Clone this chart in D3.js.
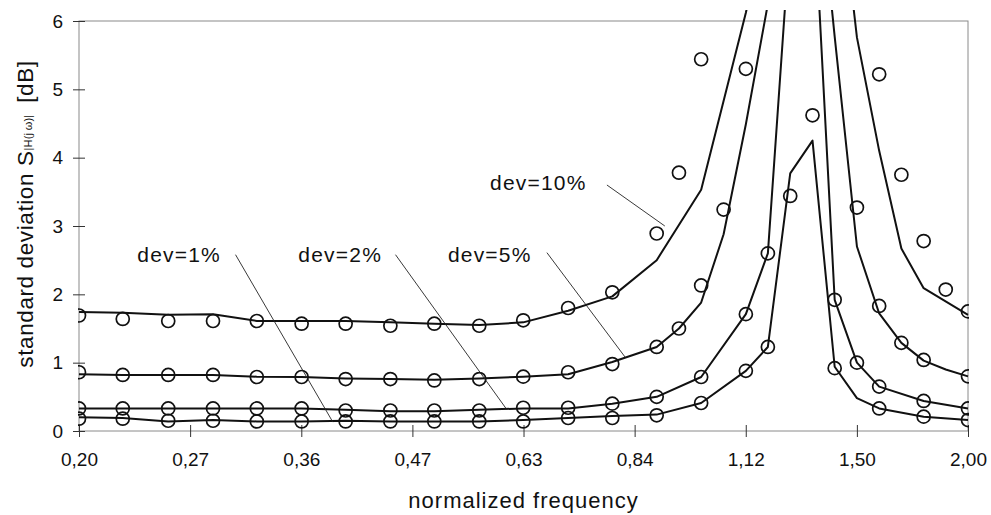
<!DOCTYPE html>
<html>
<head>
<meta charset="utf-8">
<script src="https://cdn.jsdelivr.net/npm/d3@7"></script>
<style>
  body { margin: 0; background: #fff; }
  text { font-family: "Liberation Sans", Arial, sans-serif; fill: #111; }
</style>
</head>
<body>
<div id="chart"></div>
<script>
// normalized frequency of every sample (half steps near the resonance)
var freq = [0.200, 0.224, 0.252, 0.283, 0.317, 0.356, 0.399, 0.448, 0.502, 0.564,
            0.632, 0.710, 0.796, 0.893, 0.946, 1.002, 1.062, 1.125, 1.191, 1.262,
            1.337, 1.416, 1.500, 1.589, 1.683, 1.783, 1.888, 2.000];

// simulated curves (null = no vertex there)
var dev1Line  = [0.20, 0.19, 0.14, 0.16, 0.14, 0.14, 0.15, 0.14, 0.14, 0.14, 0.16, 0.19, 0.22,
                 0.24, null, 0.41, null, 0.88, 1.23, 3.77, 4.25, 0.94, 0.48, 0.33, null, 0.21, null, 0.16];
var dev2Line  = [0.33, 0.33, 0.33, 0.33, 0.33, 0.33, 0.31, 0.29, 0.29, 0.31, 0.33, 0.33, 0.40,
                 0.50, null, 0.79, null, 1.71, 2.60, 7.30, 8.10, 1.92, 1.00, 0.65, null, 0.44, null, 0.33];
var dev5Line  = [0.83, 0.82, 0.82, 0.82, 0.795, 0.79, 0.77, 0.76, 0.75, 0.77, 0.795, 0.83, 1.01,
                 1.23, 1.50, 1.88, 2.88, 4.49, 6.25, 11.0, 9.00, 5.77, 2.70, 1.72, 1.29, 1.03, 0.90, 0.80];
var dev10Line = [1.74, 1.73, 1.70, 1.71, 1.61, 1.61, 1.61, 1.59, 1.57, 1.55, 1.59, 1.76, 1.97,
                 2.50, null, 3.53, null, 6.12, 7.60, 9.50, 10.5, 8.60, 5.76, 4.10, 2.67, 2.09, null, 1.70];

// measured points (circles)
var dev1Marks  = [0.18, 0.18, 0.15, 0.15, 0.14, 0.14, 0.14, 0.14, 0.14, 0.14, 0.14, 0.19, 0.19,
                  0.23, null, 0.41, null, 0.88, 1.23, 3.44, 4.62, 0.92, null, 0.33, null, 0.21, null, 0.16];
var dev2Marks  = [0.33, 0.33, 0.33, 0.33, 0.33, 0.33, 0.30, 0.30, 0.30, 0.30, 0.34, 0.34, 0.40,
                  0.50, null, 0.79, null, 1.71, 2.60, null, null, 1.92, 1.00, 0.65, null, 0.44, null, 0.33];
var dev5Marks  = [0.86, 0.82, 0.82, 0.82, 0.79, 0.79, 0.76, 0.76, 0.74, 0.76, 0.795, 0.86, 0.98,
                  1.23, 1.50, 2.13, 3.24, 5.30, null, null, null, null, 3.27, 1.83, 1.29, 1.04, null, 0.80];
var dev10Marks = [1.69, 1.64, 1.61, 1.61, 1.61, 1.57, 1.57, 1.54, 1.57, 1.54, 1.62, 1.80, 2.03,
                  2.89, 3.78, 5.44, null, null, null, null, null, null, null, 5.22, 3.75, 2.78, 2.07, 1.75];

var seriesNames = ["dev=1%", "dev=2%", "dev=5%", "dev=10%"];
var lineValues  = [dev1Line, dev2Line, dev5Line, dev10Line];
var markValues  = [dev1Marks, dev2Marks, dev5Marks, dev10Marks];

var xTickValues = [0.2, 0.2667, 0.3557, 0.4743, 0.6325, 0.8434, 1.1247, 1.4998, 2.0];
var xTickLabels = ["0,20", "0,27", "0,36", "0,47", "0,63", "0,84", "1,12", "1,50", "2,00"];
var yTickValues = [0, 1, 2, 3, 4, 5, 6];

var width = 991, height = 515,
    margin = {top: 21, right: 23, bottom: 84, left: 79},
    plotW = width - margin.left - margin.right,
    plotH = height - margin.top - margin.bottom;

var x = d3.scaleLog().domain([0.2, 2]).range([0, plotW]);
var y = d3.scaleLinear().domain([0, 6]).range([plotH, 0]);

var svg = d3.select("#chart").append("svg")
    .attr("width", width)
    .attr("height", height);

var g = svg.append("g")
    .attr("transform", "translate(" + margin.left + "," + margin.top + ")");

// lines are allowed to run a little above the frame, like in the original
g.append("clipPath").attr("id", "clip")
    .append("rect")
    .attr("x", -1).attr("y", -11)
    .attr("width", plotW + 2).attr("height", plotH + 12);

// frame
g.append("rect")
    .attr("width", plotW).attr("height", plotH)
    .attr("fill", "none")
    .attr("stroke", "#8a8a8a")
    .attr("stroke-width", 1);

// axes, tick marks crossing the axis lines
var xAxis = g.append("g")
    .attr("transform", "translate(0," + plotH + ")")
    .call(d3.axisBottom(x).tickValues(xTickValues).tickSize(6).tickPadding(16)
        .tickFormat(function (d, i) { return xTickLabels[i]; }));
xAxis.select(".domain").remove();
xAxis.selectAll("line").attr("y1", -6).attr("stroke", "#333");
xAxis.selectAll("text").attr("font-size", 19).style("font-family", "'Liberation Sans', Arial, sans-serif");

var yAxis = g.append("g")
    .call(d3.axisLeft(y).tickValues(yTickValues).tickSize(6).tickPadding(10)
        .tickFormat(d3.format("d")));
yAxis.select(".domain").remove();
yAxis.selectAll("line").attr("x1", 6).attr("stroke", "#333");
yAxis.selectAll("text").attr("font-size", 19).style("font-family", "'Liberation Sans', Arial, sans-serif");

// axis titles
svg.append("text")
    .attr("x", margin.left + plotW / 2)
    .attr("y", 508)
    .attr("text-anchor", "middle")
    .attr("font-size", 22)
    .attr("letter-spacing", 1)
    .text("normalized frequency");

var yTitle = svg.append("text")
    .attr("transform", "translate(33,214) rotate(-90)")
    .attr("text-anchor", "middle")
    .attr("font-size", 22.5)
    .attr("letter-spacing", 0.6);
yTitle.append("tspan").text("standard deviation S");
yTitle.append("tspan").attr("font-size", 11).attr("letter-spacing", 0.2).attr("dy", -1).text("|H(j\u2009\u03c9)|");
yTitle.append("tspan").attr("dy", 1).text("\u2002[dB]");

// curves and points
var plot = g.append("g").attr("clip-path", "url(#clip)");

var line = d3.line()
    .x(function (d) { return x(d.f); })
    .y(function (d) { return y(d.v); });

lineValues.forEach(function (vals, s) {
    var pts = freq.map(function (f, i) { return {f: f, v: vals[i]}; })
        .filter(function (d) { return d.v !== null; });
    plot.append("path")
        .attr("class", "curve")
        .attr("d", line(pts))
        .attr("fill", "none")
        .attr("stroke", "#111")
        .attr("stroke-width", 2)
        .attr("stroke-linejoin", "round");
});

markValues.forEach(function (vals, s) {
    var pts = freq.map(function (f, i) { return {f: f, v: vals[i]}; })
        .filter(function (d) { return d.v !== null; });
    plot.selectAll(".m" + s)
        .data(pts)
        .enter().append("circle")
        .attr("class", "m" + s)
        .attr("cx", function (d) { return x(d.f); })
        .attr("cy", function (d) { return y(d.v); })
        .attr("r", 6.5)
        .attr("fill", "none")
        .attr("stroke", "#111")
        .attr("stroke-width", 1.7);
});

// labels with thin leader lines (in data coordinates)
var notes = [
    {text: seriesNames[0], tf: 0.2326, tv: 2.47, from: [0.300, 2.58], to: [0.386, 0.13]},
    {text: seriesNames[1], tf: 0.353,  tv: 2.47, from: [0.454, 2.58], to: [0.606, 0.31]},
    {text: seriesNames[2], tf: 0.520,  tv: 2.47, from: [0.672, 2.61], to: [0.823, 1.08]},
    {text: seriesNames[3], tf: 0.580,  tv: 3.53, from: [0.785, 3.60], to: [0.912, 3.00]}
];

notes.forEach(function (n) {
    g.append("text")
        .attr("x", x(n.tf))
        .attr("y", y(n.tv))
        .attr("font-size", 21)
        .attr("letter-spacing", 1.2)
        .text(n.text);
    g.append("line")
        .attr("x1", x(n.from[0])).attr("y1", y(n.from[1]))
        .attr("x2", x(n.to[0])).attr("y2", y(n.to[1]))
        .attr("stroke", "#222")
        .attr("stroke-width", 0.9);
});
</script>
</body>
</html>
